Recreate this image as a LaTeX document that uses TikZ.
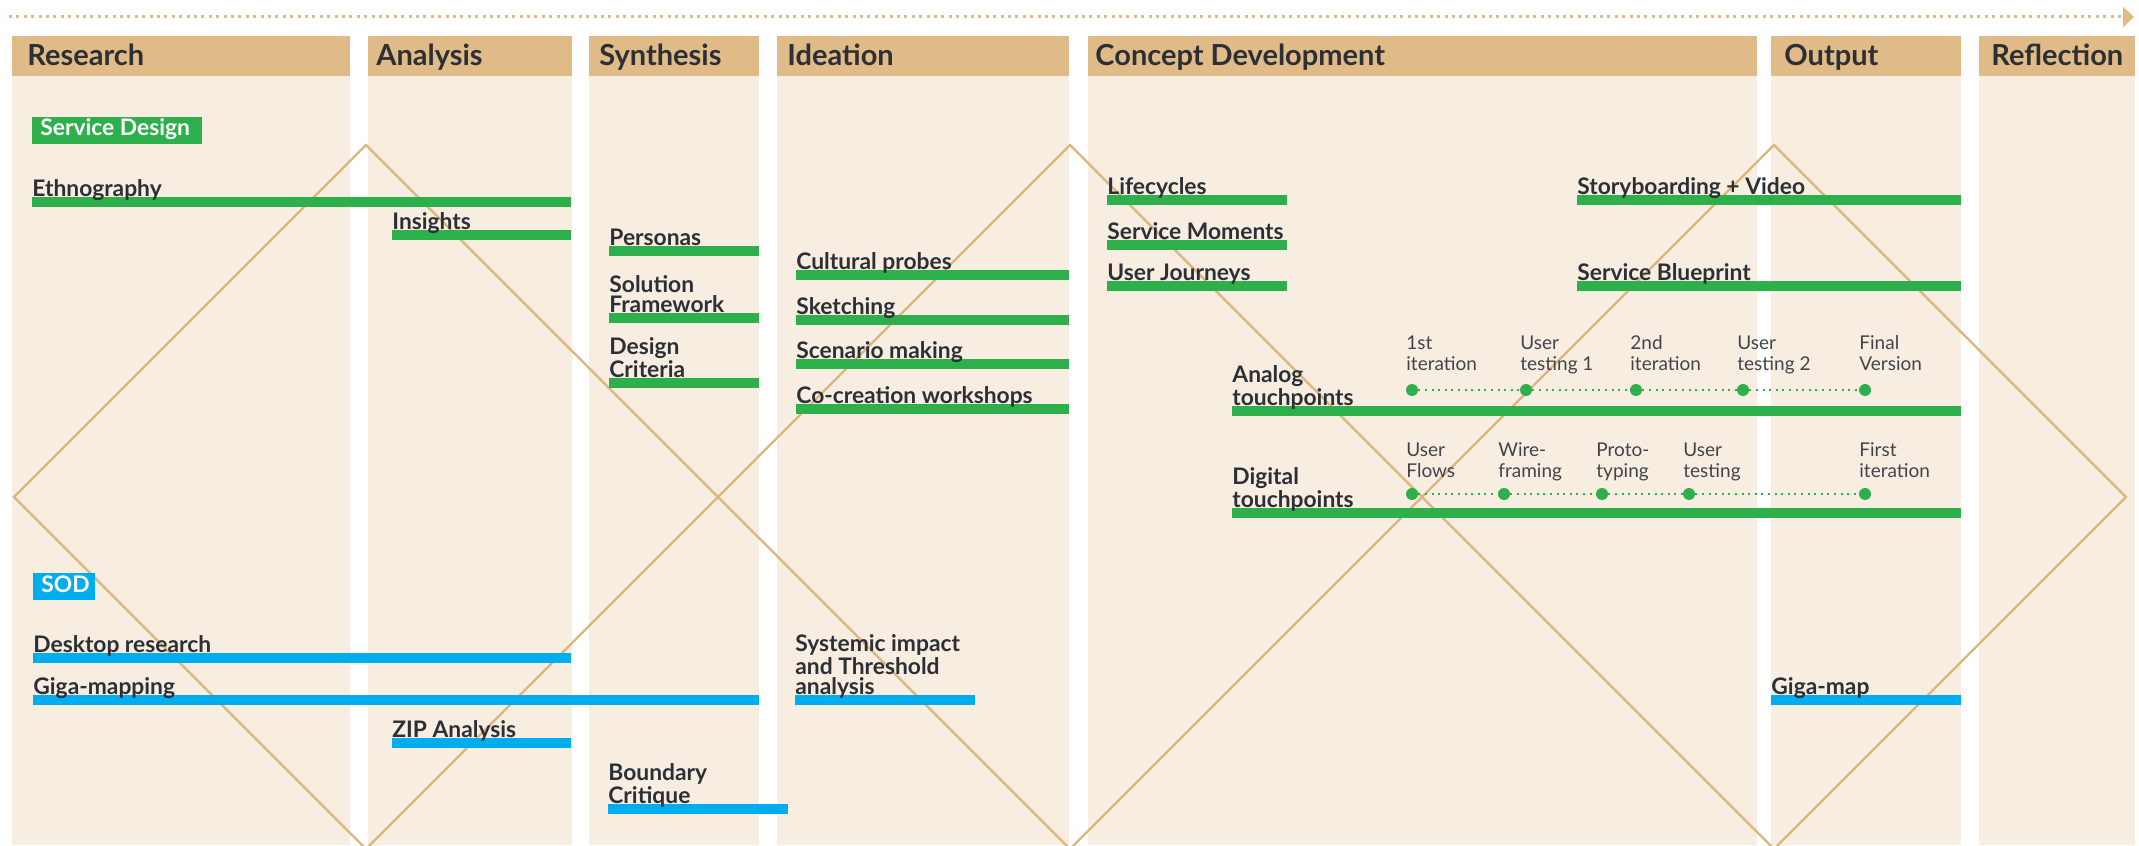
\documentclass[tikz,border=0pt]{standalone}
\usepackage{fontspec}
\setmainfont{Lato}
\usetikzlibrary{arrows.meta}
\definecolor{headtan}{HTML}{E0BA87}
\definecolor{bodytan}{HTML}{F7EDE1}
\definecolor{rimtan}{HTML}{DDB57E}
\definecolor{sdgreen}{HTML}{2DB04B}
\definecolor{sodblue}{HTML}{00ADEE}
\definecolor{ink}{HTML}{2C3036}

\begin{document}
\begin{tikzpicture}[x=0.5pt,y=-0.5pt,
  hd/.style={anchor=base west,inner sep=0,text=ink,font=\fontsize{14.5}{17}\selectfont\bfseries},
  lbl/.style={anchor=south west,inner sep=0,text depth=0pt,align=left,text=ink,font=\fontsize{11.4}{10.25}\selectfont\bfseries},
  tag/.style={anchor=base west,inner sep=0,text=white,font=\fontsize{11.4}{12}\selectfont\bfseries},
  note/.style={anchor=south west,inner sep=0,text depth=0pt,align=left,text=ink!90,font=\fontsize{9.5}{10.5}\selectfont},
  tp/.style={circle,fill=sdgreen,inner sep=0,minimum size=6pt},
  link/.style={sdgreen,line width=1pt,dash pattern=on 1pt off 2.3pt},
  rim/.style={rimtan,line width=1.1pt},
  timeline/.style={headtan,line width=1.5pt,dash pattern=on 1.5pt off 2.2pt,-{Triangle[length=5.5pt,width=10pt]}}]
\useasboundingbox (0,0) rectangle (2139,845);
\coordinate (t0) at (9,17);
\coordinate (t1) at (2134,17);
\draw[timeline] (t0) -- (t1);
\foreach \l/\r in {12/350,368/572,589/759,777/1069,1088/1757,1771/1961,1979/2135} {
  \fill[bodytan] (\l,76) rectangle (\r,845);
  \fill[headtan] (\l,36) rectangle (\r,76);
}
\node[hd] (research) at (27,66) {Research};
\node[hd] (analysis) at (376,66) {Analysis};
\node[hd] (synthesis) at (599,66) {Synthesis};
\node[hd] (ideation) at (787,66) {Ideation};
\node[hd] (concept) at (1095,66) {Concept Development};
\node[hd] (output) at (1784,66) {Output};
\node[hd] (reflection) at (1991,66) {Reflection};
\begin{scope}
\clip (0,0) rectangle (2139,845);
\foreach \c in {366,1070,1774}
  \draw[rim] (\c,145) -- (\c+352,497) -- (\c,849) -- (\c-352,497) -- cycle;
\end{scope}
\fill[sdgreen] (32,117) rectangle (202,144);
\node[tag] (sd) at (40,136) {Service Design};
\fill[sodblue] (33,573) rectangle (95,600);
\node[tag] (sod) at (41,592) {SOD};
\foreach \n/\x/\y/\r/\t in {ethno/32/197/571/Ethnography, insights/392/230/571/Insights,
    personas/609/246/759/Personas, solution/609/313/759/Solution\\Framework,
    criteria/609/378/759/Design\\Criteria, probes/796/270/1069/Cultural probes,
    sketch/796/315/1069/Sketching, scenario/796/359/1069/Scenario making,
    cocreate/796/404/1069/Co-creation workshops, life/1107/195/1287/Lifecycles,
    moments/1107/240/1287/Service Moments, journeys/1107/281/1287/User Journeys,
    story/1577/195/1961/Storyboarding + Video, blueprint/1577/281/1961/Service Blueprint,
    analog/1232/406/1961/Analog\\touchpoints, digital/1232/508/1961/Digital\\touchpoints} {
  \fill[sdgreen] (\x,\y) rectangle (\r,\y+10);
  \node[lbl] (\n) at (\x,\y) {\t};
}
\foreach \n/\x/\y/\r/\t in {desk/33/653/571/Desktop research, gigamapping/33/695/759/Giga-mapping,
    zip/392/738/571/ZIP Analysis, boundary/608/804/788/Boundary\\Critique,
    systemic/795/695/975/Systemic impact\\and Threshold\\analysis, gigamap/1771/695/1961/Giga-map} {
  \fill[sodblue] (\x,\y) rectangle (\r,\y+10);
  \node[lbl] (\n) at (\x,\y) {\t};
}
\foreach \n/\x/\t in {a1/1412/1st\\iteration, a2/1526/User\\testing 1, a3/1636/2nd\\iteration,
    a4/1743/User\\testing 2, a5/1865/Final\\Version} {
  \node[tp] (\n) at (\x,390) {};
  \node[note] (\n txt) at (\x-6,371) {\t};
}
\foreach \n/\x/\t in {d1/1412/User\\Flows, d2/1504/Wire-\\framing, d3/1602/Proto-\\typing,
    d4/1689/User\\testing, d5/1865/First\\iteration} {
  \node[tp] (\n) at (\x,494) {};
  \node[note] (\n txt) at (\x-6,478) {\t};
}
\foreach \i [count=\j from 2] in {1,...,4} {
  \draw[link] (a\i) -- (a\j);
  \draw[link] (d\i) -- (d\j);
}
\end{tikzpicture}
\end{document}
